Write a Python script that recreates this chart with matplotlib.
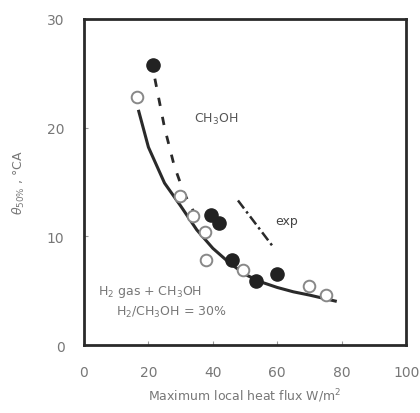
import matplotlib
matplotlib.use("Agg")
import matplotlib.pyplot as plt

# filled symbols (CH3OH only)
ch3oh_x = [21.5, 39.5, 42.0, 46.0, 53.5, 60.0]
ch3oh_y = [25.8, 12.0, 11.2, 7.8, 5.9, 6.5]

# open symbols (H2 gas + CH3OH)
h2_x = [16.5, 29.7, 33.8, 37.5, 37.8, 49.5, 70.0, 75.0]
h2_y = [22.8, 13.7, 11.9, 10.4, 7.8, 6.9, 5.4, 4.6]

# solid fit curve
fit_x = [17, 20, 25, 30, 35, 40, 45, 50, 55, 60, 65, 70, 78]
fit_y = [21.5, 18.2, 14.9, 12.8, 10.6, 8.9, 7.6, 6.5, 5.8, 5.3, 4.9, 4.6, 4.05]

# dashed curve
dash_x = [22, 25, 28, 31, 34]
dash_y = [24.5, 20.0, 16.5, 14.0, 12.3]

# short line
short_x = [47.8, 58.8]
short_y = [13.3, 9.0]

ink = "#2a2a2a"

fig = plt.figure(figsize=(4.2, 4.14), dpi=100)
ax = fig.add_axes([0.2, 0.164, 0.767, 0.788])

ax.plot(fit_x, fit_y, color=ink, lw=2.2)
ax.plot(dash_x, dash_y, color=ink, lw=2.0, ls=(0, (3, 4)))
ax.plot(short_x, short_y, color=ink, lw=1.8, ls=(0, (4, 1.5, 1, 1.5)))

ax.scatter(h2_x, h2_y, s=70, facecolors="white", edgecolors="#888888",
           linewidths=1.4, zorder=3)
ax.scatter(ch3oh_x, ch3oh_y, s=90, color="#222222", zorder=4)

ax.text(34, 20.8, "CH$_3$OH", fontsize=9, color="#555555", va="center")
ax.text(59.5, 11.5, "exp", fontsize=9, color="#444444", va="center")
ax.text(4.5, 5.0, "H$_2$ gas + CH$_3$OH", fontsize=9, color="#777777", va="center")
ax.text(10, 3.1, "H$_2$/CH$_3$OH = 30%", fontsize=9, color="#777777", va="center")

ax.set_xlim(0, 100)
ax.set_ylim(0, 30)
ax.set_xticks([0, 20, 40, 60, 80, 100])
ax.set_yticks([0, 10, 20, 30])
ax.tick_params(direction="in", length=3, labelsize=10, labelcolor="#777777",
               color="#999999", pad=14)
for s in ax.spines.values():
    s.set_linewidth(2.0)
    s.set_color(ink)

ax.set_xlabel("Maximum local heat flux W/m$^2$", fontsize=9, color="#777777",
              labelpad=6)
ax.set_ylabel(r"$\theta_{50\%}$ , °CA", fontsize=9, color="#777777", labelpad=14)

fig.savefig("out.png", dpi=100)
